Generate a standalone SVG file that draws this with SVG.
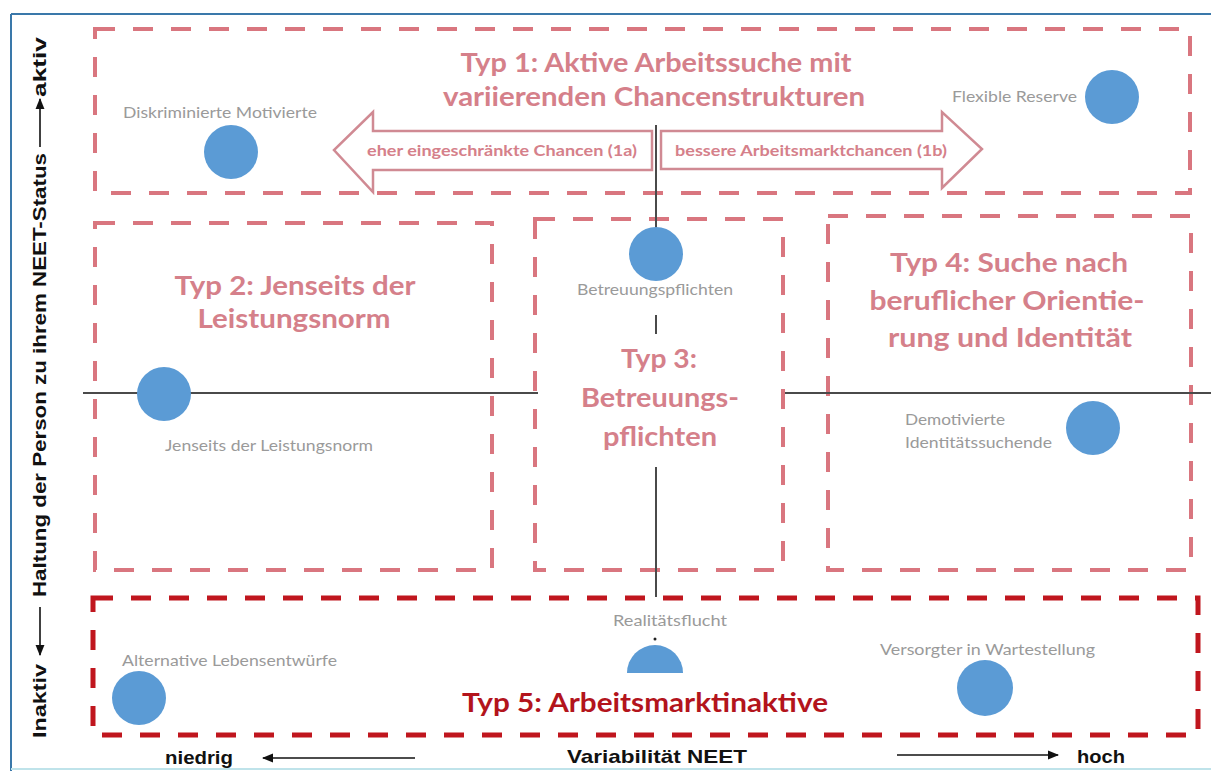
<svg xmlns="http://www.w3.org/2000/svg" width="1211" height="771" viewBox="0 0 1211 771">
  <style>
    .box { fill: #ffffff; stroke: #d9767f; stroke-width: 4; stroke-dasharray: 20 18; }
    .box5 { fill: #ffffff; stroke: #c0161e; stroke-width: 5; stroke-dasharray: 20 18; }
    .title { font-family: Lato, "Open Sans", sans-serif; font-weight: 700; font-size: 27px; fill: #d5808a; text-anchor: middle; }
    .title5 { fill: #b3141c; }
    .lbl { font-family: Lato, "Open Sans", sans-serif; font-size: 15px; fill: #9a9a9a; }
    .arrlbl { font-family: Lato, "Open Sans", sans-serif; font-weight: 700; font-size: 15px; fill: #d5808a; }
    .dot { fill: #5b9bd5; }
    .axis { stroke: #4a4a4a; stroke-width: 2; fill: none; }
    .bigarrow { fill: #ffffff; stroke: #d08a93; stroke-width: 2.5; }
    .ax { font-family: "Liberation Sans", Arial, sans-serif; font-weight: 700; font-size: 19px; fill: #111111; }
    .axline { stroke: #111111; stroke-width: 1.6; fill: none; }
  </style>
  <defs>
    <marker id="tip" viewBox="0 0 10 10" refX="9" refY="5" markerWidth="7" markerHeight="7" orient="auto">
      <path d="M0,1 L10,5 L0,9 Z" fill="#111111"/>
    </marker>
  </defs>

  <rect x="0" y="0" width="1211" height="771" fill="#ffffff"/>

  <!-- outer frame -->
  <line x1="11" y1="14" x2="1211" y2="14" stroke="#3a78aa" stroke-width="2"/>
  <line x1="11" y1="14" x2="11" y2="771" stroke="#3a78aa" stroke-width="2"/>
  <line x1="11" y1="769" x2="1211" y2="769" stroke="#bfe3ea" stroke-width="2"/>

  <!-- type areas -->
  <g id="typ1">
    <rect class="box" x="95" y="29" width="1095" height="164"/>
    <text class="title" x="656" y="72" textLength="391" lengthAdjust="spacingAndGlyphs">Typ 1: Aktive Arbeitssuche mit</text>
    <text class="title" x="654" y="106" textLength="422" lengthAdjust="spacingAndGlyphs">variierenden Chancenstrukturen</text>
  </g>
  <g id="typ2">
    <rect class="box" x="95" y="223" width="397" height="347"/>
    <text class="title" x="295" y="295" textLength="241" lengthAdjust="spacingAndGlyphs">Typ 2: Jenseits der</text>
    <text class="title" x="294" y="328" textLength="193" lengthAdjust="spacingAndGlyphs">Leistungsnorm</text>
  </g>
  <g id="typ3">
    <rect class="box" x="535" y="219" width="248" height="351"/>
  </g>
  <g id="typ4">
    <rect class="box" x="828" y="216" width="363" height="354"/>
    <text class="title" x="1009" y="272" textLength="238" lengthAdjust="spacingAndGlyphs">Typ 4: Suche nach</text>
    <text class="title" x="1007" y="310" textLength="275" lengthAdjust="spacingAndGlyphs">beruflicher Orientie-</text>
    <text class="title" x="1010" y="347" textLength="244" lengthAdjust="spacingAndGlyphs">rung und Identität</text>
  </g>
  <g id="typ5">
    <rect class="box5" x="93" y="598" width="1105" height="137"/>
  </g>

  <!-- connectors: axis lines -->
  <g id="connectors">
    <line class="axis" x1="83" y1="393" x2="538" y2="393"/>
    <line class="axis" x1="785" y1="393" x2="1211" y2="393"/>
    <line class="axis" x1="656" y1="125" x2="656" y2="230"/>
    <line class="axis" x1="656" y1="315" x2="656" y2="334"/>
    <line class="axis" x1="656" y1="467" x2="656" y2="597"/>
  </g>

  <!-- type 3 title over the vertical axis gap -->
  <g id="typ3-title">
    <text class="title" x="659" y="368" textLength="76" lengthAdjust="spacingAndGlyphs">Typ 3:</text>
    <text class="title" x="660" y="407" textLength="158" lengthAdjust="spacingAndGlyphs">Betreuungs-</text>
    <text class="title" x="660" y="446" textLength="114" lengthAdjust="spacingAndGlyphs">pflichten</text>
  </g>

  <!-- chance arrows -->
  <g id="arrow-1a">
    <path class="bigarrow" d="M652,131 L373,131 L373,112 L334,150 L373,192 L373,170 L652,170 Z"/>
    <text class="arrlbl" x="367" y="156" textLength="270" lengthAdjust="spacingAndGlyphs">eher eingeschränkte Chancen (1a)</text>
  </g>
  <g id="arrow-1b">
    <path class="bigarrow" d="M661,131 L942,131 L942,112 L982,149 L942,188 L942,169 L661,169 Z"/>
    <text class="arrlbl" x="675" y="156" textLength="272" lengthAdjust="spacingAndGlyphs">bessere Arbeitsmarktchancen (1b)</text>
  </g>
  <line class="axis" x1="656" y1="125" x2="656" y2="193"/>

  <!-- group markers -->
  <g id="diskriminierte-motivierte">
    <circle class="dot" cx="231" cy="152" r="27"/>
    <text class="lbl" x="123" y="118" textLength="194" lengthAdjust="spacingAndGlyphs">Diskriminierte Motivierte</text>
  </g>
  <g id="flexible-reserve">
    <circle class="dot" cx="1112" cy="97" r="27"/>
    <text class="lbl" x="952" y="102" textLength="125" lengthAdjust="spacingAndGlyphs">Flexible Reserve</text>
  </g>
  <g id="betreuungspflichten">
    <circle class="dot" cx="656" cy="254" r="27"/>
    <text class="lbl" x="577" y="295" textLength="156" lengthAdjust="spacingAndGlyphs">Betreuungspflichten</text>
  </g>
  <g id="jenseits">
    <circle class="dot" cx="164" cy="394" r="27"/>
    <text class="lbl" x="165" y="451" textLength="208" lengthAdjust="spacingAndGlyphs">Jenseits der Leistungsnorm</text>
  </g>
  <g id="demotivierte">
    <circle class="dot" cx="1093" cy="428" r="27"/>
    <text class="lbl" x="905" y="425" textLength="100" lengthAdjust="spacingAndGlyphs">Demotivierte</text>
    <text class="lbl" x="905" y="448" textLength="147" lengthAdjust="spacingAndGlyphs">Identitätssuchende</text>
  </g>
  <g id="alternative-lebensentwuerfe">
    <circle class="dot" cx="139" cy="698" r="27"/>
    <text class="lbl" x="122" y="666" textLength="215" lengthAdjust="spacingAndGlyphs">Alternative Lebensentwürfe</text>
  </g>
  <g id="realitaetsflucht">
    <path class="dot" d="M627,673 A28,28 0 0 1 683,673 Z"/>
    <circle cx="655" cy="639" r="1.5" fill="#222222"/>
    <text class="lbl" x="613" y="626" textLength="114" lengthAdjust="spacingAndGlyphs">Realitätsflucht</text>
  </g>
  <g id="versorgter">
    <circle class="dot" cx="985" cy="688" r="28"/>
    <text class="lbl" x="880" y="655" textLength="215" lengthAdjust="spacingAndGlyphs">Versorgter in Wartestellung</text>
  </g>

  <text class="title title5" x="645" y="712" textLength="366" lengthAdjust="spacingAndGlyphs">Typ 5: Arbeitsmarktinaktive</text>

  <!-- horizontal axis legend -->
  <g id="x-axis">
    <text class="ax" x="165" y="764" textLength="68" lengthAdjust="spacingAndGlyphs">niedrig</text>
    <line class="axline" x1="415" y1="758" x2="263" y2="758" marker-end="url(#tip)"/>
    <text class="ax" x="567" y="763" textLength="180" lengthAdjust="spacingAndGlyphs">Variabilität NEET</text>
    <line class="axline" x1="897" y1="755" x2="1058" y2="755" marker-end="url(#tip)"/>
    <text class="ax" x="1077" y="763" textLength="48" lengthAdjust="spacingAndGlyphs">hoch</text>
  </g>

  <!-- vertical axis legend -->
  <g id="y-axis">
    <text class="ax" transform="translate(46,738) rotate(-90)" textLength="74" lengthAdjust="spacingAndGlyphs">Inaktiv</text>
    <line class="axline" x1="40" y1="607" x2="40" y2="655" marker-end="url(#tip)"/>
    <text class="ax" transform="translate(46,597) rotate(-90)" textLength="444" lengthAdjust="spacingAndGlyphs">Haltung der Person zu ihrem NEET-Status</text>
    <line class="axline" x1="40" y1="147" x2="40" y2="99" marker-end="url(#tip)"/>
    <text class="ax" transform="translate(46,97) rotate(-90)" textLength="60" lengthAdjust="spacingAndGlyphs">aktiv</text>
  </g>
</svg>
